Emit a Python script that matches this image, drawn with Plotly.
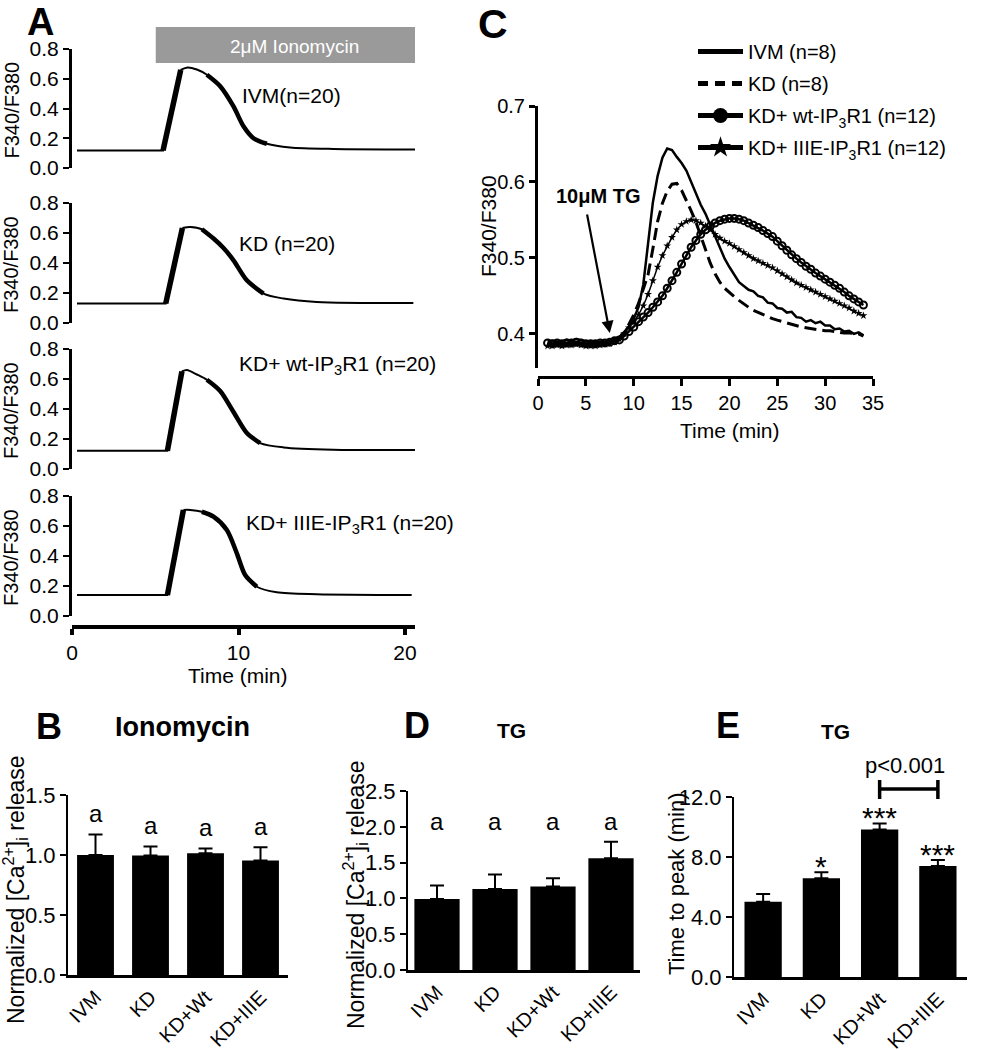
import numpy as np
import plotly.graph_objects as go

W, H = 998, 1050
FONT = "Liberation Sans, Arial, Helvetica, sans-serif"


def PX(x):
    return x / W


def PY(y):
    return 1 - y / H


# ---------------- Panel A data (ionomycin traces) ----------------
a_t_ivm = [0.3, 5.47, 6.53, 6.95, 7.5, 8.1, 8.9, 9.7, 10.3, 10.9, 11.7, 13.1, 15.7, 20.6]
a_v_ivm = [0.118, 0.118, 0.66, 0.676, 0.662, 0.627, 0.55, 0.414, 0.28, 0.20, 0.163, 0.138, 0.128, 0.125]
a_t_kd = [0.3, 5.63, 6.63, 7.1, 7.8, 8.5, 9.1, 9.7, 10.5, 11.5, 12.7, 14.7, 20.5]
a_v_kd = [0.13, 0.13, 0.633, 0.64, 0.625, 0.563, 0.50, 0.418, 0.285, 0.196, 0.163, 0.14, 0.133]
a_t_wt = [0.3, 5.73, 6.6, 6.9, 7.5, 8.1, 8.9, 9.7, 10.5, 11.3, 12.7, 15.7, 20.6]
a_v_wt = [0.122, 0.122, 0.65, 0.66, 0.63, 0.595, 0.52, 0.38, 0.24, 0.173, 0.144, 0.129, 0.127]
a_t_iiie = [0.3, 5.73, 6.69, 7.1, 7.8, 8.5, 9.3, 9.9, 10.4, 11.1, 12.3, 14.7, 20.4]
a_v_iiie = [0.14, 0.14, 0.707, 0.707, 0.695, 0.662, 0.573, 0.418, 0.273, 0.195, 0.158, 0.145, 0.14]
a_labels = ["IVM(n=20)", "KD (n=20)", "KD+ wt-IP<sub>3</sub>R1 (n=20)", "KD+ IIIE-IP<sub>3</sub>R1 (n=20)"]
a_ticks_y = [0.0, 0.2, 0.4, 0.6, 0.8]
a_ticks_x = [0, 10, 20]
iono_start, iono_end = 5.03, 20.6

# ---------------- Panel C data (TG traces) ----------------
c_time = np.arange(1.0, 34.01, 0.5)
c_ivm = [0.390, 0.391, 0.390, 0.390, 0.392, 0.391, 0.393, 0.391, 0.390, 0.390, 0.389, 0.390, 0.390, 0.391, 0.393,
         0.396, 0.402, 0.410, 0.420, 0.435, 0.465, 0.520, 0.573, 0.608, 0.632,
         0.644, 0.642, 0.633, 0.625, 0.615, 0.600, 0.583, 0.570, 0.558, 0.543,
         0.527, 0.512, 0.499, 0.488, 0.478, 0.468, 0.463, 0.458, 0.456, 0.450,
         0.448, 0.441, 0.440, 0.434, 0.433, 0.428, 0.429, 0.422, 0.421, 0.416,
         0.418, 0.414, 0.416, 0.411, 0.411, 0.406, 0.407, 0.403, 0.404, 0.400,
         0.402, 0.398]
c_kd = [0.386, 0.386, 0.387, 0.386, 0.387, 0.386, 0.388, 0.387, 0.386, 0.386, 0.386, 0.387, 0.387, 0.388, 0.390,
        0.392, 0.400, 0.412, 0.425, 0.440, 0.458, 0.478, 0.512, 0.548, 0.572,
        0.588, 0.597, 0.598, 0.589, 0.576, 0.562, 0.547, 0.528, 0.510, 0.493,
        0.479, 0.468, 0.460, 0.454, 0.449, 0.444, 0.439, 0.435, 0.431, 0.428,
        0.425, 0.422, 0.420, 0.418, 0.416, 0.414, 0.412, 0.411, 0.409, 0.408,
        0.407, 0.406, 0.405, 0.404, 0.404, 0.403, 0.402, 0.401, 0.401, 0.400,
        0.400, 0.397]
c_wt = [0.388, 0.387, 0.388, 0.387, 0.388, 0.388, 0.389, 0.388, 0.387, 0.387, 0.387, 0.388, 0.388, 0.389, 0.391,
        0.392, 0.397, 0.403, 0.409, 0.416, 0.422, 0.428, 0.435, 0.442, 0.450,
        0.460, 0.470, 0.481, 0.492, 0.503, 0.514, 0.523, 0.531, 0.537, 0.542,
        0.546, 0.549, 0.551, 0.552, 0.552, 0.551, 0.549, 0.546, 0.543, 0.540,
        0.536, 0.532, 0.528, 0.522, 0.516, 0.510, 0.504, 0.499, 0.494, 0.489,
        0.485, 0.480, 0.476, 0.472, 0.468, 0.464, 0.460, 0.455, 0.450, 0.446,
        0.442, 0.438]
c_iiie = [0.384, 0.384, 0.385, 0.384, 0.385, 0.385, 0.386, 0.385, 0.384, 0.384, 0.384, 0.385, 0.386, 0.387, 0.389,
          0.393, 0.400, 0.408, 0.416, 0.425, 0.437, 0.452, 0.470, 0.488, 0.503,
          0.516, 0.527, 0.537, 0.544, 0.548, 0.550, 0.549, 0.546, 0.542, 0.537,
          0.531, 0.526, 0.522, 0.519, 0.515, 0.511, 0.507, 0.503, 0.499, 0.496,
          0.493, 0.490, 0.487, 0.483, 0.479, 0.475, 0.471, 0.467, 0.464, 0.461,
          0.458, 0.455, 0.452, 0.449, 0.446, 0.443, 0.440, 0.437, 0.434, 0.430,
          0.427, 0.424]
c_names = ["IVM (n=8)", "KD (n=8)", "KD+ wt-IP<sub>3</sub>R1 (n=12)", "KD+ IIIE-IP<sub>3</sub>R1 (n=12)"]
tg_time, tg_level = 7.5, 0.401

# ---------------- Bar panels ----------------
cats = ["IVM", "KD", "KD+Wt", "KD+IIIE"]
b_mean = [1.00, 0.995, 1.015, 0.955]
b_sem = [0.17, 0.075, 0.04, 0.11]
b_letters = ["a", "a", "a", "a"]
d_mean = [0.99, 1.13, 1.165, 1.56]
d_sem = [0.19, 0.205, 0.115, 0.23]
d_letters = ["a", "a", "a", "a"]
d_letter_level = 2.07
e_mean = [5.02, 6.58, 9.84, 7.40]
e_sem = [0.51, 0.40, 0.40, 0.40]
e_stars = ["", "*", "***", "***"]

fig = go.Figure()

# ---------- Panel A ----------
a_sets = [(a_t_ivm, a_v_ivm), (a_t_kd, a_v_kd), (a_t_wt, a_v_wt), (a_t_iiie, a_v_iiie)]
a_dom = [(49, 168), (203, 323), (349, 469), (496, 616)]
for k, (t, v) in enumerate(a_sets, start=1):
    xr = "x" if k == 1 else f"x{k}"
    yr = "y" if k == 1 else f"y{k}"
    common = dict(mode="lines", xaxis=xr, yaxis=yr, showlegend=False, hoverinfo="skip")
    fig.add_trace(go.Scatter(x=t[:3], y=v[:3], line=dict(color="black", width=2), **common))
    fig.add_trace(go.Scatter(x=t[2:], y=v[2:], line=dict(color="black", width=2, shape="spline", smoothing=0.8), **common))
    fig.add_trace(go.Scatter(x=t[1:3], y=v[1:3], line=dict(color="black", width=5.5), **common))
    idx = [i for i, tt in enumerate(t) if 7.6 <= tt <= 11.8]
    fig.add_trace(go.Scatter(x=[t[i] for i in idx], y=[v[i] for i in idx],
                             line=dict(color="black", width=4.5, shape="spline", smoothing=0.8), **common))

# ---------- Panel C ----------
cc = dict(xaxis="x5", yaxis="y5", showlegend=False, hoverinfo="skip")
fig.add_trace(go.Scatter(x=c_time, y=c_ivm, mode="lines", line=dict(color="black", width=2.5), **cc))
fig.add_trace(go.Scatter(x=c_time, y=c_kd, mode="lines", line=dict(color="black", width=3, dash="12px,6px"), **cc))
fig.add_trace(go.Scatter(x=c_time, y=c_iiie, mode="lines+markers", line=dict(color="black", width=1.5),
                         marker=dict(symbol="star", size=6, color="black"), **cc))
fig.add_trace(go.Scatter(x=c_time, y=c_wt, mode="lines+markers", line=dict(color="black", width=2.5),
                         marker=dict(symbol="circle-open", size=7, color="black", line=dict(width=2)), **cc))
# legend entries
leg_styles = [
    dict(mode="lines", line=dict(color="black", width=5)),
    dict(mode="lines", line=dict(color="black", width=5, dash="10px,7px")),
    dict(mode="lines+markers", line=dict(color="black", width=5), marker=dict(symbol="circle", size=15, color="black")),
    dict(mode="lines+markers", line=dict(color="black", width=5), marker=dict(symbol="star", size=17, color="black")),
]
for i, (nm, st) in enumerate(zip(c_names, leg_styles)):
    fig.add_trace(go.Scatter(x=[None], y=[None], name=nm, xaxis="x5", yaxis="y5", showlegend=True,
                             legendgroup=f"g{i}", **st))

# ---------- Bars ----------
def add_bars(mean, sem, xr, yr, width):
    fig.add_trace(go.Bar(x=cats, y=mean, xaxis=xr, yaxis=yr, width=width, showlegend=False,
                         marker=dict(color="black", line=dict(width=0)),
                         error_y=dict(type="data", array=sem, arrayminus=[0] * len(sem), symmetric=False,
                                      color="black", thickness=2, width=7)))

add_bars(b_mean, b_sem, "x6", "y6", 0.67)
add_bars(d_mean, d_sem, "x7", "y7", 0.78)
add_bars(e_mean, e_sem, "x8", "y8", 0.64)

# ---------- Axes ----------
tickfontA = dict(family=FONT, size=21, color="black")
lay = {}
for k, (top, bot) in enumerate(a_dom, start=1):
    xn = "xaxis" if k == 1 else f"xaxis{k}"
    yn = "yaxis" if k == 1 else f"yaxis{k}"
    xa = dict(domain=[PX(72), PX(415)], range=[0, 20.6], anchor="y" if k == 1 else f"y{k}",
              showgrid=False, zeroline=False, automargin=False)
    if k < 4:
        xa.update(visible=False)
    else:
        xa.update(anchor="free", position=PY(627), showline=True, linewidth=4, linecolor="black",
                  ticks="outside", ticklen=6, tickwidth=4, tickcolor="black",
                  tickvals=a_ticks_x, tickfont=tickfontA)
    lay[xn] = xa
    lay[yn] = dict(domain=[PY(bot), PY(top)], range=[0, 0.8], anchor="x" if k == 1 else f"x{k}",
                   showgrid=False, zeroline=False, showline=True, linewidth=3, linecolor="black",
                   ticks="outside", ticklen=6, tickwidth=2, tickcolor="black", automargin=False,
                   tickvals=a_ticks_y, tickformat=".1f", tickfont=tickfontA)

lay["xaxis5"] = dict(domain=[PX(538), PX(873)], range=[0, 35], anchor="free", position=PY(377),
                     showgrid=False, zeroline=False, showline=True, linewidth=3, linecolor="black",
                     ticks="outside", ticklen=7, tickwidth=3, tickcolor="black", automargin=False,
                     tickvals=list(range(0, 36, 5)), tickfont=dict(family=FONT, size=20, color="black"))
lay["yaxis5"] = dict(domain=[PY(368), PY(106)], range=[0.355, 0.7], anchor="x5",
                     showgrid=False, zeroline=False, showline=True, linewidth=3, linecolor="black",
                     ticks="outside", ticklen=6, tickwidth=2.5, tickcolor="black", automargin=False,
                     tickvals=[0.4, 0.5, 0.6, 0.7], tickformat=".1f",
                     tickfont=dict(family=FONT, size=20, color="black"))

tickfontB = dict(family=FONT, size=20, color="black")
bar_specs = [("6", (68, 288), (975, 795), [0, 1.5], [0, 0.5, 1.0, 1.5]),
             ("7", (408, 640), (970, 791), [0, 2.5], [0, 0.5, 1.0, 1.5, 2.0, 2.5]),
             ("8", (734, 967), (977, 797), [0, 12], [0, 4, 8, 12])]
for n, (x0, x1), (yb, yt), rng, tv in bar_specs:
    lay[f"xaxis{n}"] = dict(domain=[PX(x0), PX(x1)], range=[-0.5, 3.5], anchor=f"y{n}", type="category",
                            showgrid=False, zeroline=False, showline=True, linewidth=2.5, linecolor="black",
                            ticks="", tickangle=-45, tickfont=tickfontB, automargin=False)
    lay[f"yaxis{n}"] = dict(domain=[PY(yb), PY(yt)], range=rng, anchor=f"x{n}",
                            showgrid=False, zeroline=False, showline=True, linewidth=2, linecolor="black",
                            ticks="outside", ticklen=6, tickwidth=2, tickcolor="black", automargin=False,
                            tickvals=tv, tickformat=".1f", tickfont=dict(family=FONT, size=22, color="black"))

# ---------- Annotations ----------
ann = []


def txt(x, y, s, size, bold=False, color="black", xanchor="center", yanchor="middle", angle=0):
    ann.append(dict(x=PX(x), y=PY(y), xref="paper", yref="paper", text=f"<b>{s}</b>" if bold else s,
                    showarrow=False, xanchor=xanchor, yanchor=yanchor, textangle=angle, borderpad=0,
                    font=dict(family=FONT, size=size, color=color)))


txt(40, 0, "A", 38, bold=True, yanchor="top")
txt(493, 0, "C", 41, bold=True, yanchor="top")
txt(49, 726, "B", 36, bold=True)
txt(417, 725, "D", 36, bold=True)
txt(728, 725, "E", 36, bold=True)

txt(294, 46, "2μM Ionomycin", 19, color="white")
a_label_pos = [(241, 95), (238, 243), (238, 365), (245, 524)]
for s, (x, y) in zip(a_labels, a_label_pos):
    txt(x, y, s, 21, xanchor="left")
for top, bot in a_dom:
    txt(11, (top + bot) / 2 + 2, "F340/F380", 20, angle=-90)
txt(238, 675, "Time (min)", 21)

txt(488, 226, "F340/F380", 21, angle=-90)
txt(730, 430, "Time (min)", 21)
txt(598, 196, "10μM TG", 20, bold=True)
ann.append(dict(x=tg_time, y=tg_level, xref="x5", yref="y5", ax=-23, ay=-120, text="",
                showarrow=True, arrowhead=2, arrowsize=1.1, arrowwidth=2.2, arrowcolor="black"))

txt(182, 727, "Ionomycin", 27, bold=True)
txt(511, 730, "TG", 21, bold=True)
txt(835, 731, "TG", 21, bold=True)

ylab = "Normalized [Ca<sup>2+</sup>]<sub>i</sub> release"
txt(15, 890, ylab, 23, angle=-90)
txt(355, 895, ylab, 23, angle=-90)
txt(676, 884, "Time to peak (min)", 22, angle=-90)

for c, m, s, l in zip(cats, b_mean, b_sem, b_letters):
    ann.append(dict(x=c, y=m + s, xref="x6", yref="y6", text=l, showarrow=False, yanchor="middle",
                    yshift=21, font=dict(family=FONT, size=24, color="black")))
for c, l in zip(cats, d_letters):
    ann.append(dict(x=c, y=d_letter_level, xref="x7", yref="y7", text=l, showarrow=False, yanchor="middle",
                    font=dict(family=FONT, size=24, color="black")))
for c, m, s, st in zip(cats, e_mean, e_sem, e_stars):
    if st:
        ann.append(dict(x=c, y=m + s, xref="x8", yref="y8", text=st, showarrow=False, yanchor="middle",
                        yshift=6, font=dict(family=FONT, size=30, color="black")))
txt(905, 765, "p<0.001", 22)

shapes = [
    dict(type="rect", xref="x", yref="paper", x0=iono_start, x1=iono_end, y0=PY(63), y1=PY(27),
         fillcolor="#9a9a9a", line=dict(width=0), layer="below"),
    dict(type="line", xref="x8", yref="paper", x0="KD+Wt", x1="KD+IIIE", y0=PY(789), y1=PY(789),
         line=dict(color="black", width=3.5)),
    dict(type="line", xref="x8", yref="paper", x0="KD+Wt", x1="KD+Wt", y0=PY(780), y1=PY(799),
         line=dict(color="black", width=3.5)),
    dict(type="line", xref="x8", yref="paper", x0="KD+IIIE", x1="KD+IIIE", y0=PY(780), y1=PY(799),
         line=dict(color="black", width=3.5)),
]

fig.update_layout(
    template="none",
    width=W, height=H, autosize=False,
    margin=dict(l=0, r=0, t=0, b=0, pad=0, autoexpand=False),
    paper_bgcolor="white", plot_bgcolor="rgba(0,0,0,0)",
    font=dict(family=FONT, color="black"),
    annotations=ann, shapes=shapes,
    legend=dict(x=PX(693), y=PY(32), xanchor="left", yanchor="top", bgcolor="rgba(0,0,0,0)",
                font=dict(family=FONT, size=20, color="black"), itemwidth=45, tracegroupgap=3,
                traceorder="grouped"),
    bargap=0.3,
    **lay,
)

fig.write_html("out.html", config={"displayModeBar": False},
               post_script="document.body.style.margin='0px';")
